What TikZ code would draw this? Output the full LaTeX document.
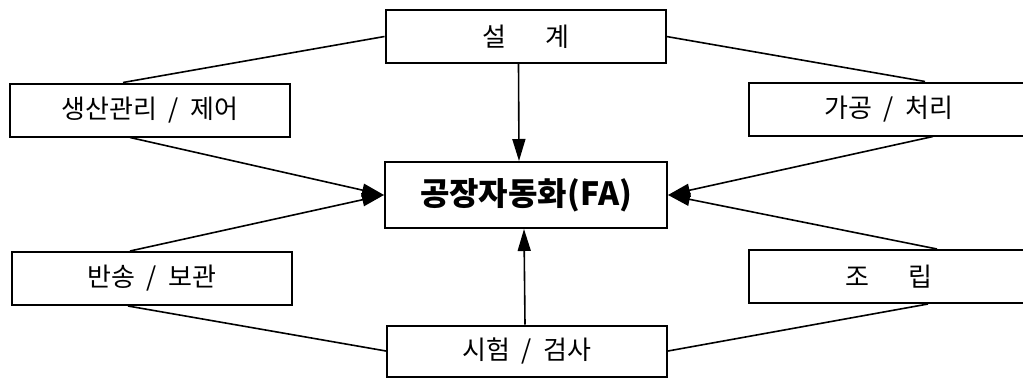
\documentclass[tikz,border=0pt]{standalone}
\usepackage{fontspec}
\setmainfont{Noto Sans CJK KR}[WordSpace=2.0]
\usetikzlibrary{arrows.meta}
\tikzset{box/.style={draw,line width=2pt,minimum width=280pt,minimum height=53pt,inner sep=0pt,font=\fontsize{26}{30}\selectfont}}
\tikzset{mainbox/.style={box,minimum width=282pt,minimum height=66pt,font=\fontsize{32}{36}\selectfont\bfseries}}
\tikzset{link/.style={line width=1.6pt}}
\tikzset{feed/.style={link,-{Triangle[length=22pt,width=13pt]}}}

\begin{document}
\begin{tikzpicture}[x=1pt,y=-1pt]
	    \useasboundingbox (0,0) rectangle (1023,378);
	    \clip (0,0) rectangle (1023,378);
	    \node[box] (design) at (525.5,36.5) {설\hspace{1.5em}계};
	    \node[mainbox] (fa) at (526,195) {공장자동화(FA)};
	    \node[box,minimum height=51pt] (test) at (527,351) {시험 / 검사};
	    \node[box] (prod) at (150,110) {생산관리 / 제어};
	    \node[box] (trans) at (152,278.5) {반송 / 보관};
	    \node[box] (mach) at (889,109) {가공 / 처리};
	    \node[box] (assy) at (889,276.5) {조\hspace{1.5em}립};
	    \draw[link] (design.west) -- ([xshift=-27pt]prod.north);
	    \draw[link] (design.east) -- ([xshift=36pt]mach.north);
	    \draw[link] (test.west) -- ([xshift=-24pt]trans.south);
	    \draw[link] (test.east) -- ([xshift=39pt]assy.south);
	    \draw[feed] ([xshift=-20pt]prod.south) -- (fa.west);
	    \draw[feed] ([xshift=-22pt]trans.north) -- (fa.west);
	    \draw[feed] ([xshift=44pt]mach.south) -- (fa.east);
	    \draw[feed] ([xshift=48pt]assy.north) -- (fa.east);
	    \draw[feed] ([xshift=-7pt]design.south) -- ([xshift=-7pt]fa.north);
	    \draw[feed] ([xshift=-2pt]test.north) -- ([xshift=-2pt]fa.south);
        \end{tikzpicture}
\end{document}
